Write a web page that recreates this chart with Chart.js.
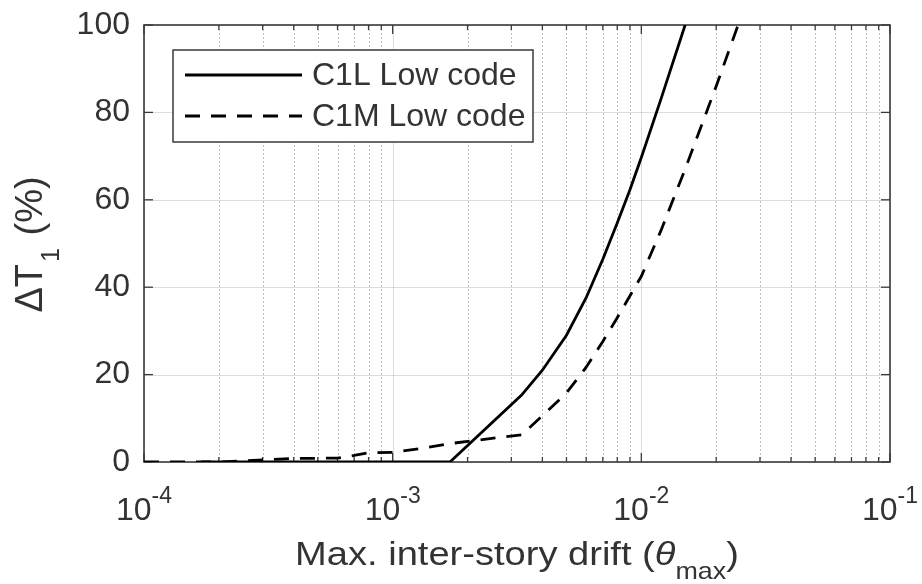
<!DOCTYPE html>
<html>
<head>
<meta charset="utf-8">
<script src="https://cdn.jsdelivr.net/npm/chart.js@4.4.1/dist/chart.umd.min.js"></script>
<style>
  html, body { margin: 0; padding: 0; background: #fff; }
  #wrap { width: 922px; height: 584px; }
</style>
</head>
<body>
<div id="wrap"><canvas id="drift" width="922" height="584"></canvas></div>
<script>
// Period change vs. max inter-story drift, log x axis, MATLAB-like look.

const SERIES_NAMES = ['C1L Low code', 'C1M Low code'];

// C1L (solid)
const C1L_DRIFT = [1.7e-4, 1.7e-3, 3.3e-3, 4e-3, 5e-3, 6e-3, 7e-3, 8e-3, 9e-3, 1e-2, 1.2e-2, 1.5e-2];
const C1L_DT    = [0,      0,      15.3,   21,   29,   37.6, 46.4, 54.7, 62.3, 69.7, 83.1,   100];

// C1M (dashed)
const C1M_DRIFT = [1e-4, 2e-4, 3e-4, 4e-4, 6e-4, 7e-4, 8e-4, 1e-3, 1.3e-3, 1.75e-3, 2.5e-3, 3.3e-3,
                   4e-3, 5e-3, 6e-3, 7e-3, 8e-3, 1e-2, 1.2e-2, 1.5e-2, 2e-2, 2.45e-2];
const C1M_DT    = [0,    0,    0.5,  0.8,  0.9,  1.5,  2.1,  2.2,  3.1,    4.3,     5.4,    6.2,
                   10.6, 15.8, 21.7, 27.6, 33,   42.5, 53,     67,     86,   100];

const X_DECADES = [1e-4, 1e-3, 1e-2, 1e-1];
const X_MINOR_MULT = [2, 3, 4, 5, 6, 7, 8, 9];
const Y_TICKS = [0, 20, 40, 60, 80, 100];

const FONT = "'Liberation Sans', Arial, Helvetica, sans-serif";
const TXT = '#333333';

function pts(xs, ys) {
  return xs.map((v, i) => ({ x: v, y: ys[i] }));
}

// decades + minor ticks for the log axis
function logTicks() {
  const out = [];
  X_DECADES.forEach((d, i) => {
    out.push({ value: d, major: true });
    if (i < X_DECADES.length - 1) {
      X_MINOR_MULT.forEach(m => out.push({ value: d * m, major: false }));
    }
  });
  return out;
}

function hline(ctx, x1, x2, y) {
  ctx.beginPath(); ctx.moveTo(x1, y); ctx.lineTo(x2, y); ctx.stroke();
}
function vline(ctx, x, y1, y2) {
  ctx.beginPath(); ctx.moveTo(x, y1); ctx.lineTo(x, y2); ctx.stroke();
}

const matlabAxes = {
  id: 'matlabAxes',
  beforeDatasetsDraw(chart) {
    const { ctx, chartArea: a, scales: { x, y } } = chart;
    ctx.save();

    // grid
    ctx.lineWidth = 1;
    y.ticks.forEach(t => {
      const py = Math.round(y.getPixelForValue(t.value)) + 0.5;
      ctx.strokeStyle = 'rgba(0,0,0,0.13)';
      ctx.setLineDash([]);
      hline(ctx, a.left, a.right, py);
    });
    x.ticks.forEach(t => {
      const px = Math.round(x.getPixelForValue(t.value)) + 0.5;
      if (t.major) {
        ctx.strokeStyle = 'rgba(0,0,0,0.13)';
        ctx.setLineDash([]);
      } else {
        ctx.strokeStyle = 'rgba(0,0,0,0.25)';
        ctx.setLineDash([2, 2]);
      }
      vline(ctx, px, a.top, a.bottom);
    });
    ctx.setLineDash([]);

    // box
    ctx.strokeStyle = '#3a3a3a';
    ctx.lineWidth = 1.6;
    ctx.strokeRect(a.left, a.top, a.right - a.left, a.bottom - a.top);

    // inward ticks
    ctx.lineWidth = 1.3;
    y.ticks.forEach(t => {
      const py = y.getPixelForValue(t.value);
      hline(ctx, a.left, a.left + 9, py);
      hline(ctx, a.right - 9, a.right, py);
    });
    x.ticks.forEach(t => {
      const px = x.getPixelForValue(t.value);
      const len = t.major ? 9 : 5;
      vline(ctx, px, a.bottom - len, a.bottom);
      vline(ctx, px, a.top, a.top + len);
    });
    ctx.restore();
  },

  afterDatasetsDraw(chart) {
    const { ctx, chartArea: a, scales: { x } } = chart;
    ctx.save();
    ctx.fillStyle = TXT;

    // x tick labels as 10^n
    X_DECADES.forEach(v => {
      const px = x.getPixelForValue(v);
      const base = '10';
      const sup = String(Math.round(Math.log10(v)));
      ctx.font = '32px ' + FONT;
      const w1 = ctx.measureText(base).width;
      ctx.font = '23px ' + FONT;
      const w2 = ctx.measureText(sup).width;
      const x0 = px - (w1 + w2) / 2;
      ctx.textAlign = 'left';
      ctx.textBaseline = 'alphabetic';
      ctx.font = '32px ' + FONT;
      ctx.fillText(base, x0, a.bottom + 58);
      ctx.font = '23px ' + FONT;
      ctx.fillText(sup, x0 + w1, a.bottom + 41);
    });

    // x title: Max. inter-story drift (theta_max)
    {
      const cx = (a.left + a.right) / 2;
      const by = a.bottom + 103;
      const parts = [
        { t: 'Max. inter-story drift (', f: '34px ' + FONT, dy: 0 },
        { t: '\u03b8', f: 'italic 34px ' + FONT, dy: 0 },
        { t: 'max', f: '24px ' + FONT, dy: 14 },
        { t: ')', f: '34px ' + FONT, dy: 0 }
      ];
      let total = 0;
      parts.forEach(p => { ctx.font = p.f; p.w = ctx.measureText(p.t).width; total += p.w; });
      ctx.save();
      ctx.translate(cx, by);
      ctx.scale(1.12, 1);
      let cur = -total / 2;
      ctx.textAlign = 'left';
      parts.forEach(p => {
        ctx.font = p.f;
        ctx.fillText(p.t, cur, p.dy);
        cur += p.w;
      });
      ctx.restore();
    }

    // y title: Delta T_1 (%)
    {
      const cy = (a.top + a.bottom) / 2;
      const parts = [
        { t: '\u0394T', f: '38px ' + FONT, dy: 0 },
        { t: '1', f: '25px ' + FONT, dy: 17 },
        { t: ' (%)', f: '38px ' + FONT, dy: 0 }
      ];
      let total = 0;
      parts.forEach(p => { ctx.font = p.f; p.w = ctx.measureText(p.t).width; total += p.w + 2; });
      ctx.save();
      ctx.translate(42, cy);
      ctx.rotate(-Math.PI / 2);
      let cur = -total / 2;
      ctx.textAlign = 'left';
      parts.forEach(p => {
        ctx.font = p.f;
        ctx.fillText(p.t, cur, p.dy);
        cur += p.w + 2;
      });
      ctx.restore();
    }

    // legend, top-left inside the axes
    {
      const lx = a.left + 29, ly = a.top + 25, lw = 360, lh = 92;
      ctx.fillStyle = '#fff';
      ctx.fillRect(lx, ly, lw, lh);
      ctx.strokeStyle = '#3a3a3a';
      ctx.lineWidth = 1.5;
      ctx.strokeRect(lx, ly, lw, lh);
      chart.data.datasets.forEach((ds, i) => {
        const ry = ly + 25 + i * 41;
        ctx.strokeStyle = ds.borderColor;
        ctx.lineWidth = ds.borderWidth;
        ctx.setLineDash(ds.borderDash || []);
        hline(ctx, lx + 12, lx + 129, ry);
        ctx.setLineDash([]);
        ctx.fillStyle = TXT;
        ctx.font = '32px ' + FONT;
        ctx.textAlign = 'left';
        ctx.textBaseline = 'middle';
        ctx.fillText(ds.label, lx + 139, ry + 1);
      });
    }
    ctx.restore();
  }
};

new Chart(document.getElementById('drift'), {
  type: 'scatter',
  data: {
    datasets: [
      {
        label: SERIES_NAMES[0],
        data: pts(C1L_DRIFT, C1L_DT),
        showLine: true,
        borderColor: '#000',
        borderWidth: 2.8,
        pointRadius: 0,
        tension: 0
      },
      {
        label: SERIES_NAMES[1],
        data: pts(C1M_DRIFT, C1M_DT),
        showLine: true,
        borderColor: '#000',
        borderWidth: 2.8,
        borderDash: [15, 11],
        pointRadius: 0,
        tension: 0
      }
    ]
  },
  options: {
    responsive: false,
    animation: false,
    layout: { padding: { left: 0, right: 32, top: 25, bottom: 0 } },
    plugins: {
      legend: { display: false },
      tooltip: { enabled: false }
    },
    scales: {
      x: {
        type: 'logarithmic',
        min: X_DECADES[0],
        max: X_DECADES[X_DECADES.length - 1],
        afterBuildTicks: s => { s.ticks = logTicks(); },
        afterFit: s => { s.height = 122; s.paddingLeft = 0; s.paddingRight = 0; },
        ticks: { display: false },
        grid: { display: false, drawTicks: false },
        border: { display: false }
      },
      y: {
        min: Y_TICKS[0],
        max: Y_TICKS[Y_TICKS.length - 1],
        afterBuildTicks: s => { s.ticks = Y_TICKS.map(v => ({ value: v })); },
        afterFit: s => { s.width = 144; s.paddingTop = 0; s.paddingBottom = 0; },
        ticks: {
          color: TXT,
          padding: 14,
          font: { family: FONT, size: 32 }
        },
        grid: { display: false, drawTicks: false },
        border: { display: false }
      }
    }
  },
  plugins: [matlabAxes]
});
</script>
</body>
</html>
